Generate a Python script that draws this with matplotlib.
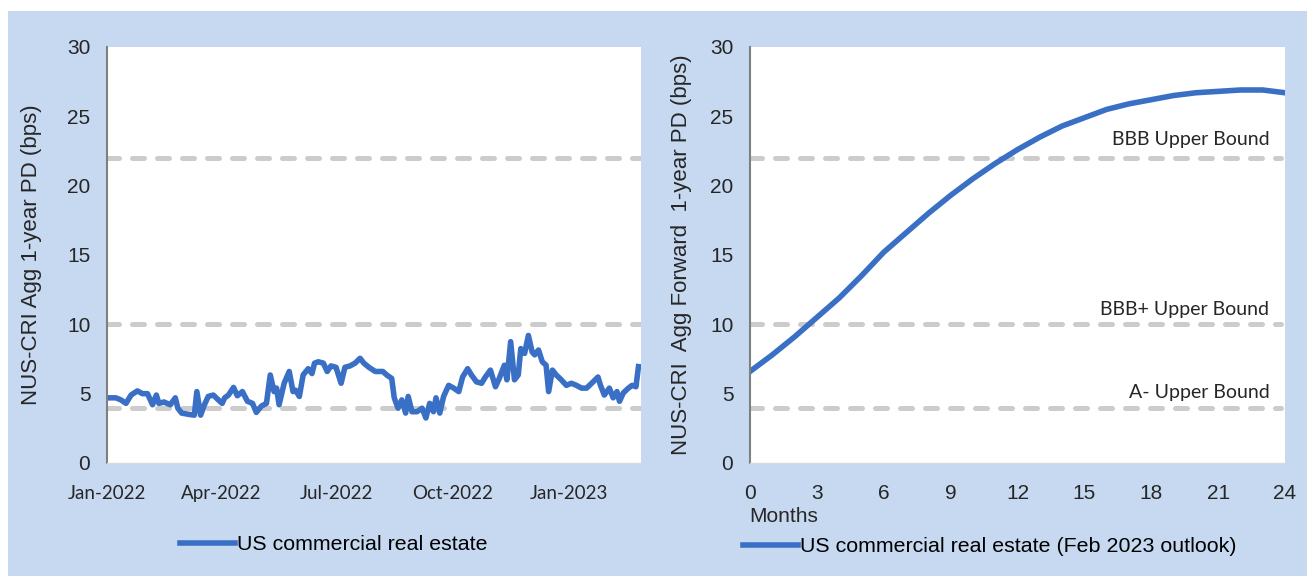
import matplotlib.pyplot as plt
import matplotlib.dates as mdates
from matplotlib.patches import Rectangle
import pandas as pd

# left panel: daily-ish NUS-CRI aggregate PD (bps), days after 1 Jan 2022
day_offsets = [2, 7, 11, 15, 19, 24, 28, 32, 36, 39, 41, 45, 50, 54, 56, 59, 65, 69, 71, 74,
               77, 80, 84, 88, 91, 93, 96, 100, 103, 107, 111, 115, 118, 122, 126, 129, 132, 134, 136, 140,
               144, 147, 149, 152, 155, 159, 162, 164, 167, 171, 174, 177, 181, 185, 188, 192, 196, 200, 203, 207,
               212, 218, 221, 225, 227, 230, 233, 236, 238, 241, 245, 249, 252, 255, 258, 260, 263, 266, 270, 274,
               278, 281, 285, 288, 292, 296, 299, 303, 307, 310, 314, 316, 319, 322, 325, 327, 330, 333, 336, 338,
               341, 344, 347, 349, 352, 355, 359, 363, 367, 371, 375, 379, 383, 388, 390, 393, 397, 400, 403, 405,
               408, 412, 415, 418, 420]
pd_values = [4.7, 4.7, 4.55, 4.3, 4.9, 5.2, 5.0, 5.0, 4.2, 4.9, 4.3, 4.4, 4.2, 4.7, 3.95, 3.6, 3.5, 3.45, 5.15, 3.45,
             4.2, 4.8, 4.9, 4.55, 4.3, 4.7, 4.9, 5.45, 4.85, 5.15, 4.45, 4.3, 3.65, 4.1, 4.3, 6.35, 5.15, 5.4, 4.2, 5.75,
             6.6, 5.15, 5.25, 4.8, 6.35, 6.8, 6.45, 7.2, 7.3, 7.2, 6.6, 7.0, 6.9, 5.75, 6.9, 7.0, 7.2, 7.55, 7.2, 6.9,
             6.6, 6.6, 6.35, 6.1, 4.7, 3.95, 4.55, 3.6, 4.8, 3.7, 3.7, 3.95, 3.25, 4.3, 3.7, 4.7, 3.6, 4.8, 5.6, 5.4,
             5.15, 6.2, 6.8, 6.35, 5.85, 5.75, 6.2, 6.7, 5.5, 6.1, 7.05, 6.0, 8.75, 6.0, 6.35, 8.25, 7.9, 9.2, 8.0, 7.8,
             8.15, 7.3, 7.05, 5.15, 6.7, 6.35, 6.0, 5.6, 5.75, 5.6, 5.4, 5.4, 5.75, 6.2, 5.6, 4.9, 5.4, 4.7, 5.15, 4.45,
             5.05, 5.4, 5.6, 5.5, 6.95]

# right panel: forward PD outlook (Feb 2023)
months = list(range(25))
forward_pd = [6.6, 7.8, 9.1, 10.5, 11.9, 13.5, 15.2, 16.6, 18.0, 19.3, 20.5, 21.6, 22.6, 23.5, 24.3,
              24.9, 25.5, 25.9, 26.2, 26.5, 26.7, 26.8, 26.9, 26.9, 26.7]

bounds = [22, 10, 4]
bound_labels = ["BBB Upper Bound", "BBB+ Upper Bound", "A- Upper Bound"]
bound_label_y = [23.3, 11.1, 5.05]

dates = pd.Timestamp("2022-01-01") + pd.to_timedelta(day_offsets, unit="D")

blue = "#3a6fc6"
dash_grey = "#cccccc"
bg = "#c6d9f0"
txt = "#262626"
dash_kw = dict(color=dash_grey, lw=3.6, dashes=(2.4, 2.6), dash_capstyle="round", zorder=1)

fig = plt.figure(figsize=(13.07, 5.76), dpi=100)
fig.add_artist(Rectangle((8 / 1307, 0), 1, 565 / 576, transform=fig.transFigure,
                         facecolor=bg, edgecolor="none", zorder=0))

ax1 = fig.add_axes([107 / 1307, 113 / 576, 534 / 1307, 416 / 576])
ax2 = fig.add_axes([750 / 1307, 113 / 576, 535 / 1307, 416 / 576])

for ax in (ax1, ax2):
    ax.set_facecolor("white")
    ax.set_ylim(0, 30)
    ax.set_yticks([0, 5, 10, 15, 20, 25, 30])
    for s in ("top", "right"):
        ax.spines[s].set_visible(False)
    ax.spines["left"].set_color("#7f7f7f")
    ax.spines["left"].set_linewidth(1.5)
    ax.spines["bottom"].set_color("#d9d9d9")
    ax.spines["bottom"].set_linewidth(1)
    ax.tick_params(length=0, colors=txt)
    for t in ax.get_yticklabels():
        t.set_fontfamily("Liberation Sans")
        t.set_fontsize(15)

# left panel
for b in bounds:
    ax1.axhline(b, **dash_kw)
ax1.plot(dates, pd_values, color=blue, lw=4, zorder=2, label="US commercial real estate")
ax1.set_xlim(pd.Timestamp("2022-01-01"), pd.Timestamp("2023-02-27"))
ax1.set_xticks(pd.to_datetime(["2022-01-01", "2022-04-01", "2022-07-01", "2022-10-01", "2023-01-01"]))
ax1.xaxis.set_major_formatter(mdates.DateFormatter("%b-%Y"))
ax1.tick_params(axis="y", pad=12)
ax1.tick_params(axis="x", pad=16)
for t in ax1.get_xticklabels():
    t.set_fontfamily("Lato")
    t.set_fontsize(13.5)
ax1.set_ylabel("NUS-CRI Agg 1-year PD (bps)", fontsize=16, family="Liberation Sans", color=txt)
ax1.yaxis.set_label_coords(-0.122, 0.5)
ax1.legend(loc="center", bbox_to_anchor=(334 / 1307, 31 / 576), bbox_transform=fig.transFigure,
           frameon=False, handlelength=2.55, handletextpad=0.1,
           prop={"family": "Liberation Sans", "size": 15.4})

# right panel
for b in bounds:
    ax2.plot([0, 23.8], [b, b], **dash_kw)
for lab, ly in zip(bound_labels, bound_label_y):
    ax2.text(23.3, ly, lab, ha="right", va="center", fontsize=14, family="Lato", color=txt)
ax2.plot(months, forward_pd, color=blue, lw=4, zorder=2,
         label="US commercial real estate (Feb 2023 outlook)")
ax2.set_xlim(0, 24)
ax2.set_xticks(range(0, 25, 3))
ax2.tick_params(axis="y", pad=12)
ax2.tick_params(axis="x", pad=15)
for t in ax2.get_xticklabels():
    t.set_fontfamily("Liberation Sans")
    t.set_fontsize(15)
ax2.set_ylabel("NUS-CRI  Agg Forward  1-year PD (bps)", fontsize=16, family="Liberation Sans", color=txt)
ax2.yaxis.set_label_coords(-0.108, 0.5)
fig.text(749 / 1307, 1 - 517 / 576, "Months", fontsize=15, family="Liberation Sans",
         color=txt, va="center", ha="left")
ax2.legend(loc="center", bbox_to_anchor=(990 / 1307, 29 / 576), bbox_transform=fig.transFigure,
           frameon=False, handlelength=2.55, handletextpad=0.1,
           prop={"family": "Liberation Sans", "size": 15.4})

fig.savefig("out.png", dpi=100)
